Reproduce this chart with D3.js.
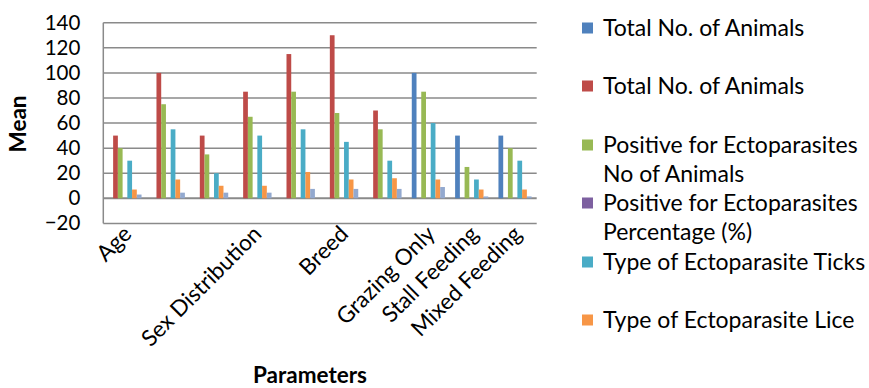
<!DOCTYPE html>
<html><head><meta charset="utf-8">
<script src="https://cdn.jsdelivr.net/npm/d3@7"></script>
<style>body{margin:0;background:#fff}svg{display:block;font-family:Lato,'Open Sans',sans-serif}</style>
</head><body><svg id="c" width="869" height="388"></svg>
<script>
const categories = ["Age","","","Sex Distribution","","Breed","","Grazing Only","Stall Feeding","Mixed Feeding"];
const seriesNames = ["Total No. of Animals","Total No. of Animals","Positive for Ectoparasites No of Animals","Positive for Ectoparasites Percentage (%)","Type of Ectoparasite Ticks","Type of Ectoparasite Lice","Type of Ectoparasite Other"];
const totalBlue   = [null,null,null,null,null,null,null,100,50,50];
const totalRed    = [50,100,50,85,115,130,70,null,null,null];
const positiveNo  = [40,75,35,65,85,68,55,85,25,40];
const positivePct = [null,null,null,null,null,null,null,null,null,null];
const ticks       = [30,55,20,50,55,45,30,60,15,30];
const lice        = [7,15,10,10,21,15,16,15,7,7];
const other       = [3,4.5,4.5,4.5,7.5,7.5,7.5,9,1.5,1.5];
const yTicks = [-20,0,20,40,60,80,100,120,140];
const legendLines = [["Total No. of Animals"],["Total No. of Animals"],["Positive for Ectoparasites","No of Animals"],["Positive for Ectoparasites","Percentage (%)"],["Type of Ectoparasite Ticks"],["Type of Ectoparasite Lice"]];

const series = [totalBlue,totalRed,positiveNo,positivePct,ticks,lice,other];
const colors = ["#4F81BD","#BE4B48","#98B954","#7D60A0","#4AACC6","#F79646","#93A9CF"];

const svg = d3.select("#c");
const L = 103.3, R = 536.7, T = 22.7, B = 223.4;
const y = d3.scaleLinear().domain([-20,140]).range([B,T]);
const x0 = d3.scaleBand().domain(d3.range(categories.length)).range([L,R]).padding(0);
const gap = 5.1;
const x1 = d3.scaleBand().domain(d3.range(series.length)).range([gap, x0.bandwidth()-gap]).padding(0);

// gridlines
svg.append("g").selectAll("line").data(yTicks).join("line")
  .attr("x1",L).attr("x2",R).attr("y1",d=>y(d)).attr("y2",d=>y(d))
  .attr("stroke","#8a8a8a").attr("stroke-width",d=>d===0?2:1.5);

// left axis line
svg.append("line").attr("x1",L).attr("x2",L).attr("y1",T).attr("y2",B).attr("stroke","#8a8a8a").attr("stroke-width",1.5);

// bars
const g = svg.append("g");
series.forEach((vals,si)=>{
  g.append("g").selectAll("rect").data(vals.map((v,i)=>({v,i})).filter(d=>d.v!=null)).join("rect")
    .attr("x",d=>x0(d.i)+x1(si))
    .attr("width",x1.bandwidth())
    .attr("y",d=>y(Math.max(0,d.v)))
    .attr("height",d=>Math.abs(y(d.v)-y(0)))
    .attr("fill",colors[si]);
});

// y axis
const ya = svg.append("g").attr("transform",`translate(${L},0)`)
  .call(d3.axisLeft(y).tickValues(yTicks).tickSize(0).tickPadding(23));
ya.select(".domain").remove();
ya.selectAll("text").attr("font-size",20.5).attr("fill","#000").attr("font-family","Lato");

// x axis labels
const xa = svg.append("g").attr("transform",`translate(0,${B})`)
  .call(d3.axisBottom(x0).tickFormat(i=>categories[i]).tickSize(0));
xa.select(".domain").remove();
xa.selectAll("text").attr("font-size",22.5).attr("fill","#000").attr("font-family","Lato")
  .attr("y",0).attr("dy",0).attr("text-anchor","end")
  .attr("transform","translate(8,12) rotate(-45)");

// axis titles
svg.append("text").attr("transform","translate(26,124) rotate(-90)").attr("text-anchor","middle")
  .attr("font-size",22.5).attr("font-weight","bold").text("Mean");
svg.append("text").attr("x",310).attr("y",383).attr("text-anchor","middle")
  .attr("font-size",22.5).attr("font-weight","bold").text("Parameters");

// legend
const lg = svg.append("g");
const lY = [28,86,145,203,262,320];
legendLines.forEach((lines,i)=>{
  lg.append("rect").attr("x",582).attr("y",lY[i]-5.5).attr("width",11).attr("height",11).attr("fill",colors[i]);
  lines.forEach((t,j)=>{
    lg.append("text").attr("x",603).attr("y",lY[i]+8+j*29).attr("font-size",23).text(t);
  });
});
</script></body></html>
